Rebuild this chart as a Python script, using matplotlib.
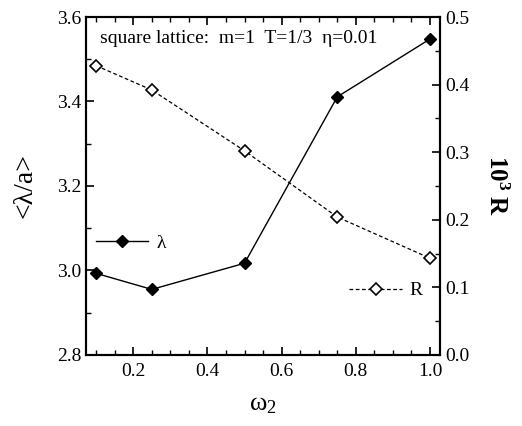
import numpy as np
import matplotlib
matplotlib.use("Agg")
import matplotlib.pyplot as plt
from matplotlib.ticker import MultipleLocator

plt.rcParams['font.family'] = ['Liberation Serif', 'DejaVu Serif']
plt.rcParams['mathtext.fontset'] = 'custom'
plt.rcParams['mathtext.rm'] = 'Liberation Serif'
plt.rcParams['mathtext.it'] = 'Liberation Serif:italic'
plt.rcParams['mathtext.bf'] = 'Liberation Serif:bold'

omega2 = [0.1, 0.25, 0.5, 0.75, 1.0]
lam = [2.993, 2.955, 3.017, 3.411, 3.548]
R = [0.428, 0.392, 0.302, 0.204, 0.143]

fig = plt.figure(figsize=(5.22, 4.26), dpi=100)
ax = fig.add_axes([0.165, 0.167, 0.678, 0.793])
ax2 = ax.twinx()

l1, = ax.plot(omega2, lam, '-', color='black', lw=1.0, marker='D',
              markersize=6.5, mfc='black', mec='black', label='λ')
l2, = ax2.plot(omega2, R, '--', color='black', lw=0.9, dashes=(3, 2), marker='D',
               markersize=6.5, mfc='white', mec='black', mew=1.2, label='R')

ax.set_xlim(0.073, 1.027)
ax.set_ylim(2.8, 3.6)
ax2.set_ylim(0.0, 0.5)

ax.xaxis.set_major_locator(MultipleLocator(0.2))
ax.xaxis.set_minor_locator(MultipleLocator(0.05))
ax.yaxis.set_major_locator(MultipleLocator(0.2))
ax.yaxis.set_minor_locator(MultipleLocator(0.1))
ax2.yaxis.set_major_locator(MultipleLocator(0.1))
ax2.yaxis.set_minor_locator(MultipleLocator(0.05))
fmt = plt.FuncFormatter(lambda v, p: f"{v:.1f}")
ax.xaxis.set_major_formatter(fmt)
ax.yaxis.set_major_formatter(fmt)
ax2.yaxis.set_major_formatter(fmt)

ax.tick_params(axis='x', which='both', direction='in', top=True, labelsize=14, pad=6)
ax.tick_params(axis='y', which='both', direction='in', right=False, labelsize=14)
ax2.tick_params(axis='y', which='both', direction='in', labelsize=14)
for a in (ax, ax2):
    a.tick_params(which='major', length=6, width=1.2)
    a.tick_params(which='minor', length=3.5, width=1.0)
    for s in a.spines.values():
        s.set_linewidth(1.5)

ax.set_xlabel(r'$\mathrm{\omega_2}$', fontsize=19, labelpad=10)
ax.set_ylabel('<λ/a>', fontsize=20, labelpad=14)
ax2.set_ylabel(r'10$^\mathbf{3}$ R', fontsize=18, fontweight='bold', rotation=270, labelpad=28)

ax.text(0.04, 0.935, 'square lattice:  m=1  T=1/3  η=0.01',
        transform=ax.transAxes, fontsize=14, va='center')

ax.legend(handles=[l1], loc='center left', bbox_to_anchor=(-0.022, 0.33),
          frameon=False, fontsize=14, handlelength=2.7, handletextpad=0.4)
ax2.legend(handles=[l2], loc='center right', bbox_to_anchor=(1.0, 0.19),
           frameon=False, fontsize=14, handlelength=2.7, handletextpad=0.4)

fig.savefig('out.png', dpi=100)
